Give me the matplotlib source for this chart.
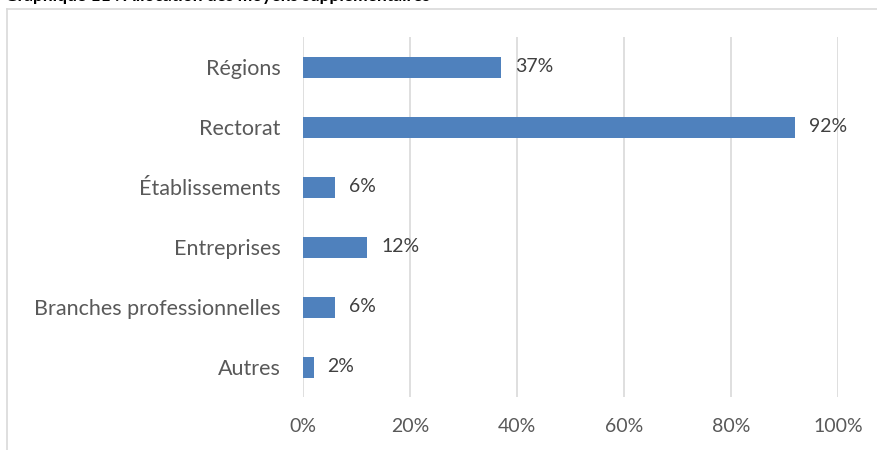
import matplotlib.pyplot as plt
from matplotlib.lines import Line2D

categories = ["Régions", "Rectorat", "Établissements", "Entreprises",
              "Branches professionnelles", "Autres"]
values = [37, 92, 6, 12, 6, 2]
xticks = [0, 20, 40, 60, 80, 100]

plt.rcParams['font.family'] = ['Lato', 'DejaVu Sans']

fig = plt.figure(figsize=(8.77, 4.5), dpi=100)
ax = fig.add_axes([303 / 877, 53 / 450, 535 / 877, 360 / 450])

pos = list(range(len(categories)))
ax.barh(pos, values, height=0.35, color="#4F81BD", zorder=3)
for p, v in zip(pos, values):
    ax.text(v + 2.6, p, f"{v}%", va="center", ha="left", fontsize=14, color="#404040")

ax.set_ylim(len(categories) - 0.5, -0.5)
ax.set_xlim(0, 100)
ax.set_yticks(pos)
ax.set_yticklabels(categories, fontsize=15.5, color="#595959")
ax.set_xticks(xticks)
ax.set_xticklabels([f"{t}%" for t in xticks], fontsize=14, color="#595959")
ax.tick_params(axis="both", length=0)
ax.tick_params(axis="x", pad=15)
ax.tick_params(axis="y", pad=16)
ax.grid(axis="x", color="#D9D9D9", linewidth=1.2, zorder=0)
for s in ax.spines.values():
    s.set_visible(False)

# chart frame (cropped)
fig.add_artist(Line2D([7 / 877, 1], [1 - 8.5 / 450] * 2, color="#D9D9D9", lw=1.2))
fig.add_artist(Line2D([7 / 877] * 2, [0, 1 - 8.5 / 450], color="#D9D9D9", lw=1.2))

# title, mostly cut off by the top edge
fig.text(5 / 877, 1 - 0.5 / 450, "Graphique 11 : Allocation des moyens supplémentaires",
         fontsize=12.5, fontweight="bold", color="#000000", va="baseline", ha="left")

fig.savefig("out.png", dpi=100)
